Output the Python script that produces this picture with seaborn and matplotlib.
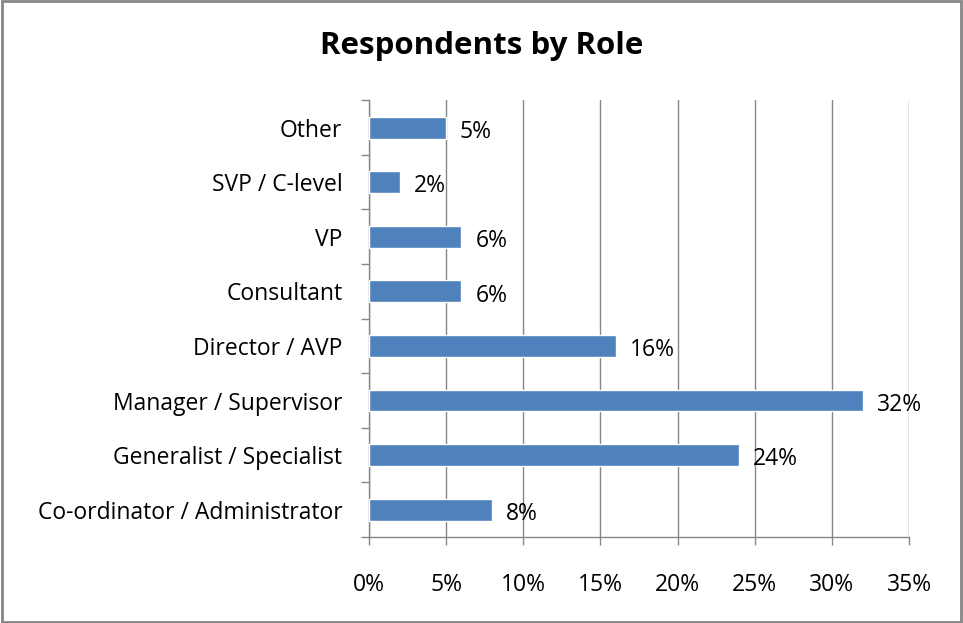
import matplotlib
matplotlib.use("Agg")
import matplotlib.pyplot as plt
import matplotlib.ticker as mticker
import pandas as pd
import seaborn as sns

# Data (top to bottom as shown)
roles = ["Other", "SVP / C-level", "VP", "Consultant", "Director / AVP",
         "Manager / Supervisor", "Generalist / Specialist",
         "Co-ordinator / Administrator"]
shares = [5, 2, 6, 6, 16, 32, 24, 8]
xticks = [0, 5, 10, 15, 20, 25, 30, 35]

df = pd.DataFrame({"Role": roles, "Share": shares})

sns.set_theme(style="white")
plt.rcParams["font.family"] = ["Open Sans", "DejaVu Sans"]
plt.rcParams["text.color"] = "black"

fig = plt.figure(figsize=(9.63, 6.23), dpi=100)
ax = fig.add_axes([0.383, 0.138, 0.561, 0.701])

grid_col = "#868686"
sns.barplot(data=df, x="Share", y="Role", color="#4F81BD", width=0.4,
            saturation=1, ax=ax, zorder=3)

ax.set_xlim(0, 35)
ax.set_ylim(len(roles) - 0.5, -0.5)
ax.set_xticks(xticks)
ax.xaxis.set_major_formatter(mticker.FuncFormatter(lambda v, p: f"{v:.0f}%"))
ax.xaxis.grid(True, color=grid_col, linewidth=1, zorder=0)
ax.set_axisbelow(True)

# category labels at centers, ticks at boundaries
ax.set_yticks(range(len(roles)))
ax.set_yticklabels(roles)
ax.set_yticks([i - 0.5 for i in range(len(roles) + 1)], minor=True)
ax.tick_params(axis="y", which="major", length=0, pad=19, labelsize=16.5,
               labelcolor="black")
ax.tick_params(axis="y", which="minor", length=6, color=grid_col, width=1,
               direction="out", left=True)
ax.tick_params(axis="x", length=6, color=grid_col, width=1, direction="out",
               bottom=True, pad=20, labelsize=16.5, labelcolor="black")

ax.set_xlabel("")
ax.set_ylabel("")
for s in ["top", "right"]:
    ax.spines[s].set_visible(False)
for s in ["left", "bottom"]:
    ax.spines[s].set_color(grid_col)
    ax.spines[s].set_linewidth(1)

for i, v in enumerate(shares):
    ax.annotate(f"{v}%", (v, i), xytext=(10, -3), textcoords="offset points",
                ha="left", va="center", fontsize=16.5, color="black")

fig.suptitle("Respondents by Role", x=0.5, y=0.95, fontsize=22.5,
             fontweight="bold", color="black")

# outer border
fig.patches.append(plt.Rectangle((0.002, 0.002), 0.996, 0.996,
                                 transform=fig.transFigure, fill=False,
                                 edgecolor=grid_col, linewidth=2))

fig.savefig("out.png", dpi=100)
